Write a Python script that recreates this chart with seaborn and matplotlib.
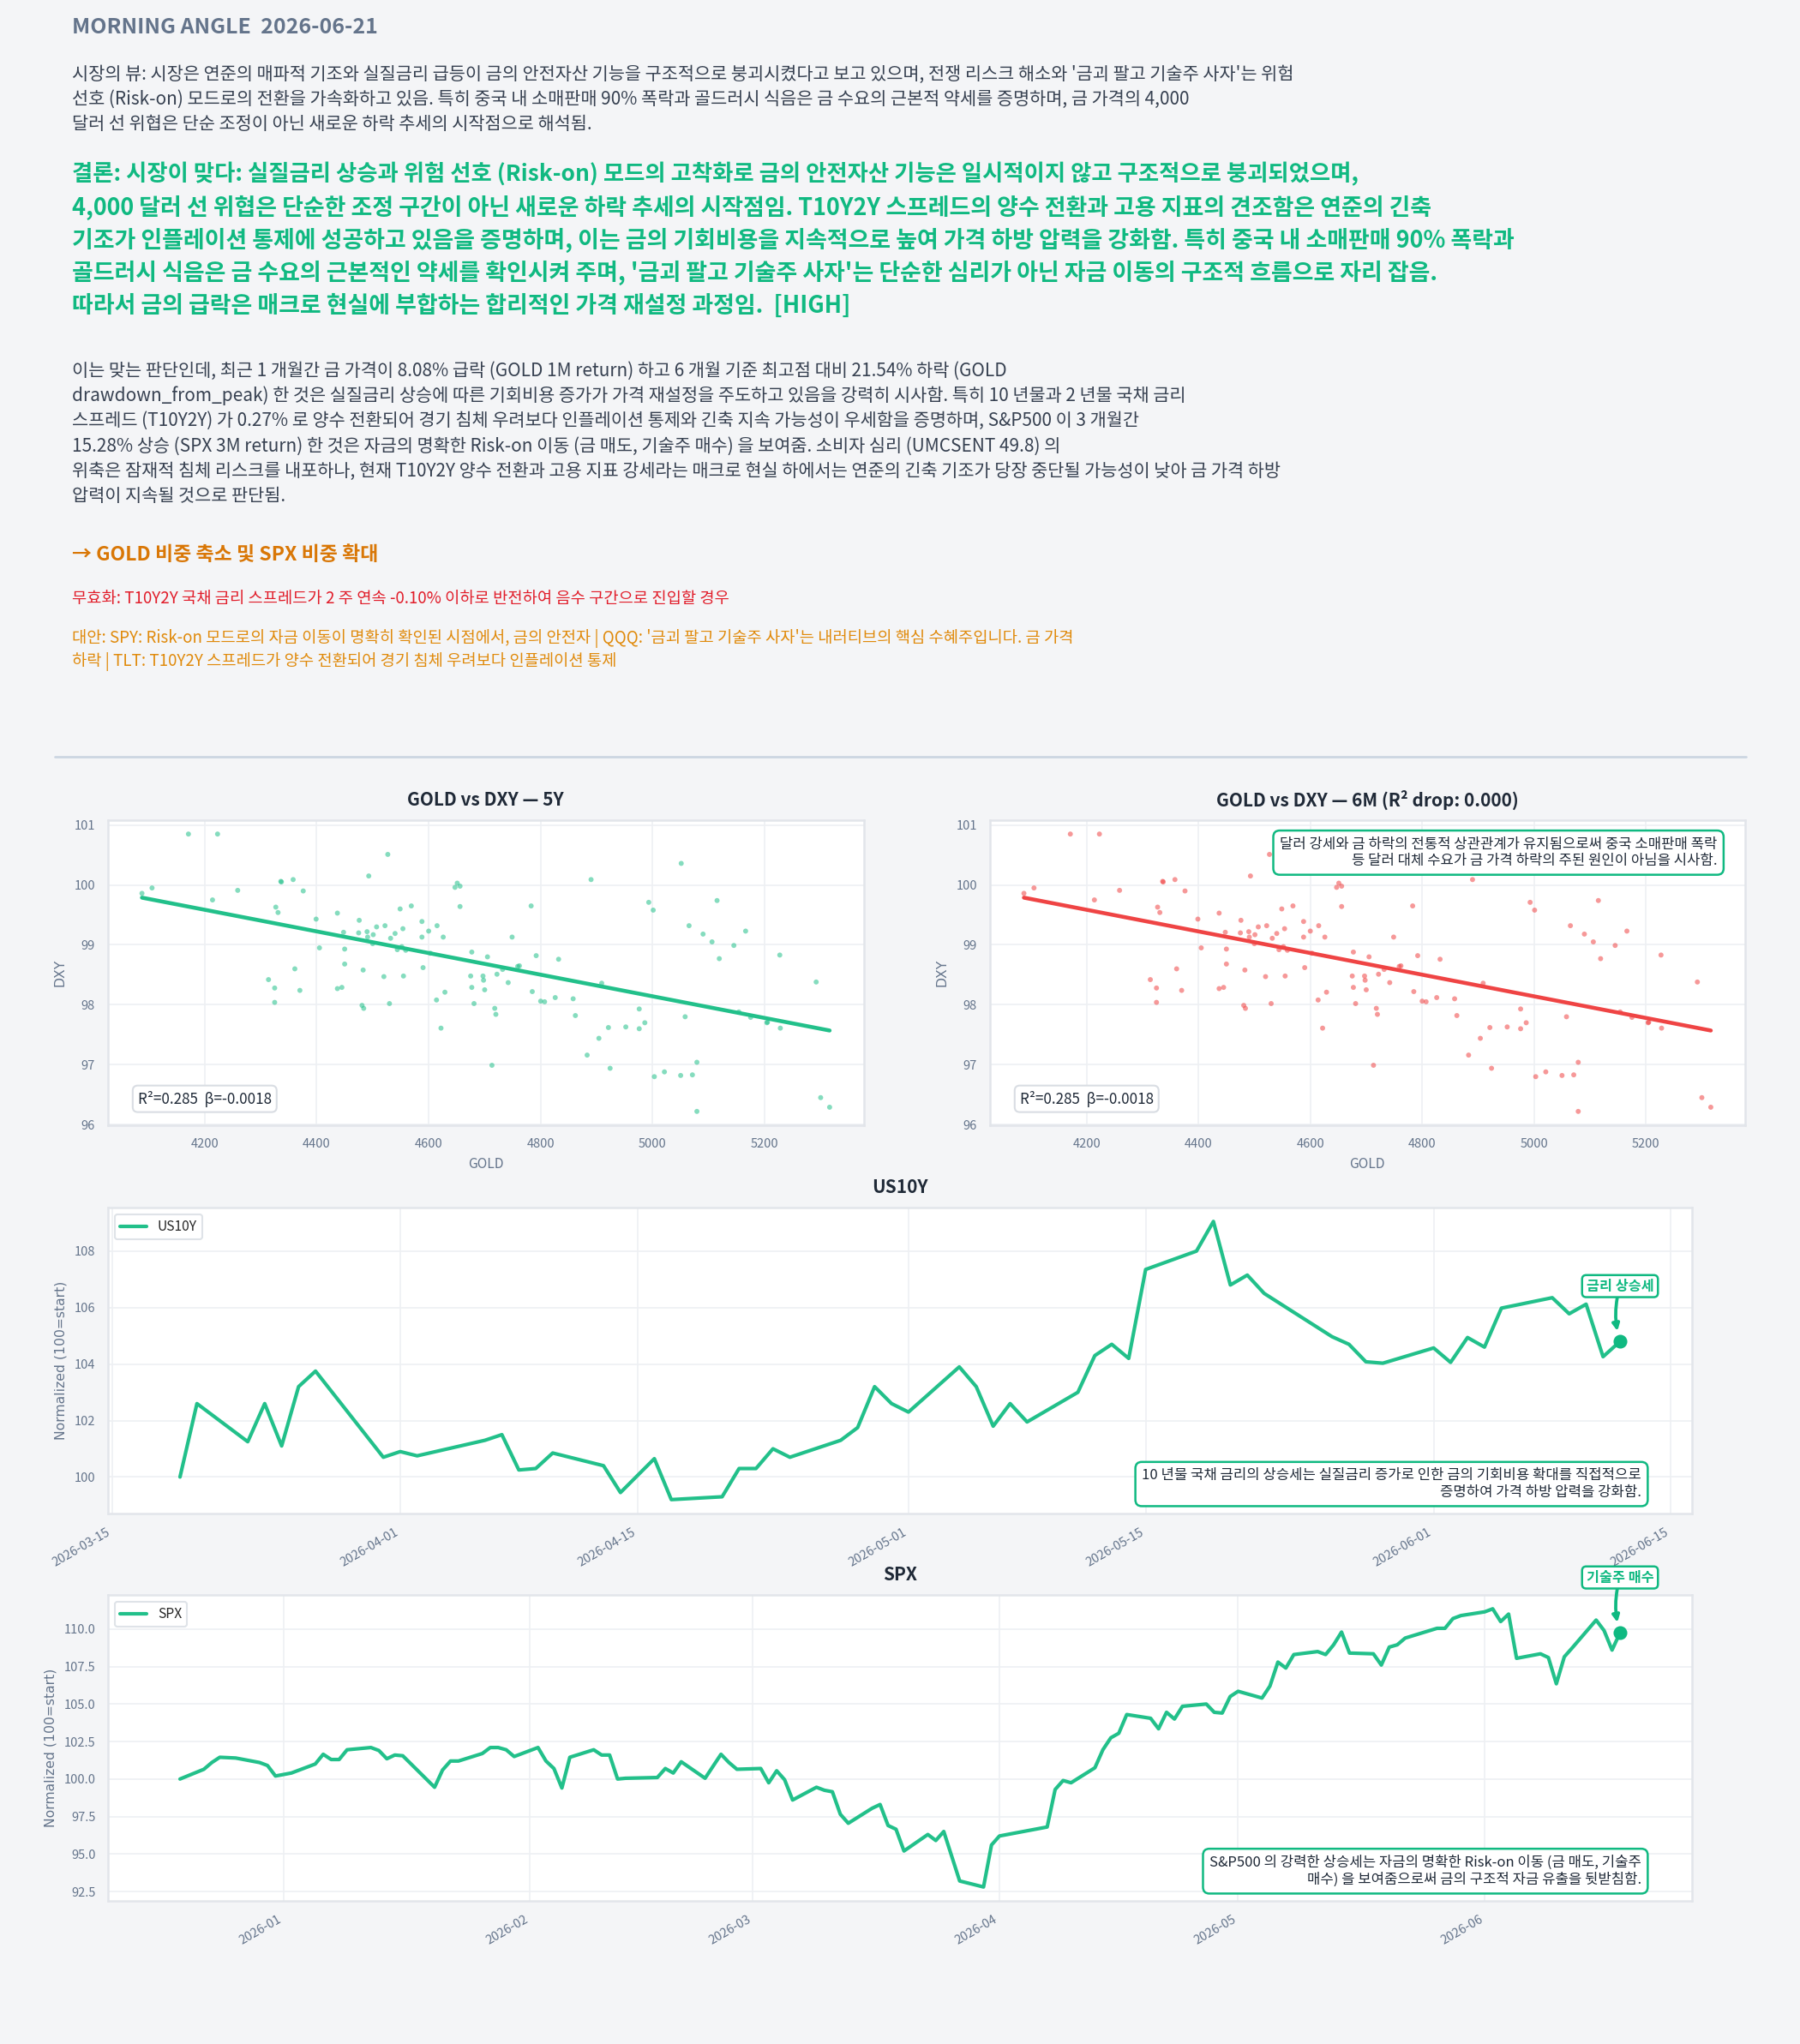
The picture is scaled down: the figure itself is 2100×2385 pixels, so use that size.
import pandas as pd
import matplotlib.pyplot as plt
from matplotlib.lines import Line2D
import seaborn as sns

# ------------------------------------------------------
# Data
# ------------------------------------------------------
gold = [4088, 4106, 4171, 4223, 4214, 4259, 4327, 4331, 4336, 4337,
        4358, 4376, 4314, 4325, 4325, 4361, 4370, 4399, 4405, 4437,
        4448, 4450, 4450, 4437, 4445, 4476, 4475, 4490, 4491, 4501,
        4500, 4507, 4522, 4532, 4540, 4493, 4527, 4483, 4520, 4481,
        4484, 4530, 4544, 4552, 4559, 4549, 4569, 4554, 4555, 4588,
        4588, 4600, 4615, 4626, 4603, 4590, 4614, 4629, 4622, 4647,
        4651, 4656, 4656, 4677, 4705, 4675, 4697, 4698, 4677, 4700,
        4681, 4718, 4720, 4713, 4722, 4732, 4742, 4749, 4759, 4762,
        4783, 4792, 4785, 4800, 4807, 4826, 4832, 4858, 4862, 4890,
        4909, 4883, 4904, 4921, 4924, 4952, 4976, 4976, 4986, 4993,
        5001, 5003, 5021, 5050, 5071, 5079, 5079, 5051, 5058, 5065,
        5090, 5106, 5115, 5119, 5145, 5166, 5154, 5175, 5204, 5205,
        5228, 5227, 5292, 5300, 5316]
dxy = [99.86, 99.95, 100.85, 100.85, 99.75, 99.91, 99.63, 99.54, 100.06, 100.05,
       100.09, 99.90, 98.42, 98.28, 98.04, 98.60, 98.24, 99.43, 98.95, 99.53,
       99.21, 98.93, 98.68, 98.27, 98.29, 99.41, 99.20, 99.22, 99.13, 99.17,
       99.02, 99.30, 99.32, 99.11, 99.19, 100.15, 100.51, 98.58, 98.47, 97.99,
       97.94, 98.02, 98.92, 98.97, 98.91, 99.60, 99.65, 99.27, 98.48, 99.39,
       99.13, 99.23, 99.32, 99.13, 98.86, 98.62, 98.08, 98.21, 97.61, 99.96,
       100.03, 99.98, 99.64, 98.88, 98.80, 98.48, 98.48, 98.41, 98.29, 98.25,
       98.02, 97.94, 97.84, 96.99, 98.51, 98.59, 98.37, 99.13, 98.64, 98.65,
       99.65, 98.82, 98.22, 98.06, 98.05, 98.12, 98.76, 98.10, 97.82, 100.09,
       98.36, 97.16, 97.44, 97.62, 96.94, 97.63, 97.93, 97.60, 97.70, 99.71,
       99.58, 96.80, 96.88, 96.82, 96.83, 97.04, 96.22, 100.36, 97.80, 99.32,
       99.18, 99.05, 99.74, 98.77, 98.99, 99.23, 97.88, 97.79, 97.70, 97.71,
       97.61, 98.83, 98.38, 96.45, 96.29]

us10y_dates = ["2026-03-19", "2026-03-20", "2026-03-23", "2026-03-24", "2026-03-25",
               "2026-03-26", "2026-03-27", "2026-03-31", "2026-04-01", "2026-04-02",
               "2026-04-06", "2026-04-07", "2026-04-08", "2026-04-09", "2026-04-10",
               "2026-04-13", "2026-04-14", "2026-04-16", "2026-04-17", "2026-04-20",
               "2026-04-21", "2026-04-22", "2026-04-23", "2026-04-24", "2026-04-27",
               "2026-04-28", "2026-04-29", "2026-04-30", "2026-05-01", "2026-05-04",
               "2026-05-05", "2026-05-06", "2026-05-07", "2026-05-08", "2026-05-11",
               "2026-05-12", "2026-05-13", "2026-05-14", "2026-05-15", "2026-05-18",
               "2026-05-19", "2026-05-20", "2026-05-21", "2026-05-22", "2026-05-26",
               "2026-05-27", "2026-05-28", "2026-05-29", "2026-06-01", "2026-06-02",
               "2026-06-03", "2026-06-04", "2026-06-05", "2026-06-08", "2026-06-09",
               "2026-06-10", "2026-06-11", "2026-06-12"]
us10y_vals = [100.0, 102.6, 101.25, 102.6, 101.1, 103.2, 103.75, 100.7, 100.9, 100.75,
              101.3, 101.5, 100.25, 100.3, 100.85, 100.4, 99.45, 100.65, 99.2, 99.3,
              100.3, 100.3, 101.0, 100.7, 101.3, 101.75, 103.2, 102.6, 102.3, 103.9,
              103.2, 101.8, 102.6, 101.95, 103.0, 104.3, 104.7, 104.2, 107.35, 108.0,
              109.05, 106.8, 107.15, 106.5, 104.97, 104.7, 104.08, 104.03, 104.57, 104.06,
              104.94, 104.6, 105.98, 106.35, 105.78, 106.12, 104.26, 104.8]

spx_dates = ["2025-12-19", "2025-12-22", "2025-12-23", "2025-12-24", "2025-12-26",
             "2025-12-29", "2025-12-30", "2025-12-31", "2026-01-02", "2026-01-05",
             "2026-01-06", "2026-01-07", "2026-01-08", "2026-01-09", "2026-01-12",
             "2026-01-13", "2026-01-14", "2026-01-15", "2026-01-16", "2026-01-20",
             "2026-01-21", "2026-01-22", "2026-01-23", "2026-01-26", "2026-01-27",
             "2026-01-28", "2026-01-29", "2026-01-30", "2026-02-02", "2026-02-03",
             "2026-02-04", "2026-02-05", "2026-02-06", "2026-02-09", "2026-02-10",
             "2026-02-11", "2026-02-12", "2026-02-13", "2026-02-17", "2026-02-18",
             "2026-02-19", "2026-02-20", "2026-02-23", "2026-02-24", "2026-02-25",
             "2026-02-26", "2026-02-27", "2026-03-02", "2026-03-03", "2026-03-04",
             "2026-03-05", "2026-03-06", "2026-03-09", "2026-03-10", "2026-03-11",
             "2026-03-12", "2026-03-13", "2026-03-16", "2026-03-17", "2026-03-18",
             "2026-03-19", "2026-03-20", "2026-03-23", "2026-03-24", "2026-03-25",
             "2026-03-26", "2026-03-27", "2026-03-30", "2026-03-31", "2026-04-01",
             "2026-04-02", "2026-04-06", "2026-04-07", "2026-04-08", "2026-04-09",
             "2026-04-10", "2026-04-13", "2026-04-14", "2026-04-15", "2026-04-16",
             "2026-04-17", "2026-04-20", "2026-04-21", "2026-04-22", "2026-04-23",
             "2026-04-24", "2026-04-27", "2026-04-28", "2026-04-29", "2026-04-30",
             "2026-05-01", "2026-05-04", "2026-05-05", "2026-05-06", "2026-05-07",
             "2026-05-08", "2026-05-11", "2026-05-12", "2026-05-13", "2026-05-14",
             "2026-05-15", "2026-05-18", "2026-05-19", "2026-05-20", "2026-05-21",
             "2026-05-22", "2026-05-26", "2026-05-27", "2026-05-28", "2026-05-29",
             "2026-06-01", "2026-06-02", "2026-06-03", "2026-06-04", "2026-06-05",
             "2026-06-08", "2026-06-09", "2026-06-10", "2026-06-11", "2026-06-12",
             "2026-06-15", "2026-06-16", "2026-06-17", "2026-06-18"]
spx_vals = [100.0, 100.65, 101.1, 101.45, 101.4, 101.1, 100.9, 100.2, 100.4, 101.0,
            101.65, 101.3, 101.3, 101.95, 102.1, 101.9, 101.35, 101.6, 101.55, 99.45,
            100.6, 101.2, 101.2, 101.7, 102.1, 102.1, 101.95, 101.5, 102.1, 101.2,
            100.7, 99.4, 101.45, 101.95, 101.6, 101.6, 100.0, 100.05, 100.1, 100.7,
            100.4, 101.15, 100.05, 100.85, 101.65, 101.1, 100.65, 100.7, 99.75, 100.55,
            99.95, 98.6, 99.45, 99.25, 99.15, 97.65, 97.05, 98.05, 98.3, 96.9,
            96.65, 95.2, 96.3, 95.9, 96.5, 94.85, 93.2, 92.8, 95.6, 96.2,
            96.3, 96.7, 96.8, 99.3, 99.9, 99.75, 100.75, 101.95, 102.75, 103.05,
            104.3, 104.05, 103.35, 104.45, 104.0, 104.85, 105.0, 104.45, 104.4, 105.5,
            105.85, 105.4, 106.2, 107.8, 107.4, 108.3, 108.5, 108.3, 108.95, 109.8,
            108.4, 108.35, 107.6, 108.8, 108.95, 109.4, 110.05, 110.05, 110.7, 110.9,
            111.15, 111.35, 110.5, 111.0, 108.05, 108.35, 108.1, 106.35, 108.15, 108.75,
            110.6, 109.9, 108.6, 109.75]

# ------------------------------------------------------
# Text
# ------------------------------------------------------
header = "MORNING ANGLE  2026-06-21"
view_lines = [
    "시장의 뷰: 시장은 연준의 매파적 기조와 실질금리 급등이 금의 안전자산 기능을 구조적으로 붕괴시켰다고 보고 있으며, 전쟁 리스크 해소와 '금괴 팔고 기술주 사자'는 위험",
    "선호 (Risk-on) 모드로의 전환을 가속화하고 있음. 특히 중국 내 소매판매 90% 폭락과 골드러시 식음은 금 수요의 근본적 약세를 증명하며, 금 가격의 4,000",
    "달러 선 위협은 단순 조정이 아닌 새로운 하락 추세의 시작점으로 해석됨.",
]
verdict_lines = [
    "결론: 시장이 맞다: 실질금리 상승과 위험 선호 (Risk-on) 모드의 고착화로 금의 안전자산 기능은 일시적이지 않고 구조적으로 붕괴되었으며,",
    "4,000 달러 선 위협은 단순한 조정 구간이 아닌 새로운 하락 추세의 시작점임. T10Y2Y 스프레드의 양수 전환과 고용 지표의 견조함은 연준의 긴축",
    "기조가 인플레이션 통제에 성공하고 있음을 증명하며, 이는 금의 기회비용을 지속적으로 높여 가격 하방 압력을 강화함. 특히 중국 내 소매판매 90% 폭락과",
    "골드러시 식음은 금 수요의 근본적인 약세를 확인시켜 주며, '금괴 팔고 기술주 사자'는 단순한 심리가 아닌 자금 이동의 구조적 흐름으로 자리 잡음.",
    "따라서 금의 급락은 매크로 현실에 부합하는 합리적인 가격 재설정 과정임.  [HIGH]",
]
body_lines = [
    "이는 맞는 판단인데, 최근 1 개월간 금 가격이 8.08% 급락 (GOLD 1M return) 하고 6 개월 기준 최고점 대비 21.54% 하락 (GOLD",
    "drawdown_from_peak) 한 것은 실질금리 상승에 따른 기회비용 증가가 가격 재설정을 주도하고 있음을 강력히 시사함. 특히 10 년물과 2 년물 국채 금리",
    "스프레드 (T10Y2Y) 가 0.27% 로 양수 전환되어 경기 침체 우려보다 인플레이션 통제와 긴축 지속 가능성이 우세함을 증명하며, S&P500 이 3 개월간",
    "15.28% 상승 (SPX 3M return) 한 것은 자금의 명확한 Risk-on 이동 (금 매도, 기술주 매수) 을 보여줌. 소비자 심리 (UMCSENT 49.8) 의",
    "위축은 잠재적 침체 리스크를 내포하나, 현재 T10Y2Y 양수 전환과 고용 지표 강세라는 매크로 현실 하에서는 연준의 긴축 기조가 당장 중단될 가능성이 낮아 금 가격 하방",
    "압력이 지속될 것으로 판단됨.",
]
action = "→ GOLD 비중 축소 및 SPX 비중 확대"
invalid = "무효화: T10Y2Y 국채 금리 스프레드가 2 주 연속 -0.10% 이하로 반전하여 음수 구간으로 진입할 경우"
alt_lines = [
    "대안: SPY: Risk-on 모드로의 자금 이동이 명확히 확인된 시점에서, 금의 안전자 | QQQ: '금괴 팔고 기술주 사자'는 내러티브의 핵심 수혜주입니다. 금 가격",
    "하락 | TLT: T10Y2Y 스프레드가 양수 전환되어 경기 침체 우려보다 인플레이션 통제",
]
note_6m = "달러 강세와 금 하락의 전통적 상관관계가 유지됨으로써 중국 소매판매 폭락\n등 달러 대체 수요가 금 가격 하락의 주된 원인이 아님을 시사함."
note_us10y = "10 년물 국채 금리의 상승세는 실질금리 증가로 인한 금의 기회비용 확대를 직접적으로\n증명하여 가격 하방 압력을 강화함."
note_spx = "S&P500 의 강력한 상승세는 자금의 명확한 Risk-on 이동 (금 매도, 기술주\n매수) 을 보여줌으로써 금의 구조적 자금 유출을 뒷받침함."
stat_label = "R²=0.285  β=-0.0018"

# ------------------------------------------------------
# Style
# ------------------------------------------------------
BG = "#f4f5f7"
GREEN = "#10b981"
LINE_GREEN = "#22c08a"
RED = "#ef4444"
ORANGE = "#d97706"
TEXT = "#374151"
MUTED = "#64748b"
SPINE = "#e2e5ea"

sns.set_theme(style="whitegrid")
plt.rcParams["font.family"] = ["Noto Sans CJK KR", "DejaVu Sans"]
plt.rcParams.update({
    "figure.facecolor": BG,
    "axes.facecolor": "white",
    "axes.edgecolor": SPINE,
    "axes.linewidth": 1.2,
    "grid.color": "#eef0f3",
    "grid.linewidth": 0.8,
    "xtick.color": MUTED,
    "ytick.color": MUTED,
    "xtick.labelsize": 7,
    "ytick.labelsize": 7,
    "axes.labelcolor": MUTED,
    "axes.labelsize": 7.5,
})

W, H = 2100, 2385
fig = plt.figure(figsize=(W / 150, H / 150), dpi=150)


def fy(px):
    return 1 - px / H


def add_ax(x0, y0, x1, y1):
    return fig.add_axes([x0 / W, 1 - y1 / H, (x1 - x0) / W, (y1 - y0) / H])


# ------------------------------------------------------
# Text block
# ------------------------------------------------------
X0 = 84 / W
fig.text(X0, fy(32), header, fontsize=12, fontweight="bold", color=MUTED, va="center")
for line, y in zip(view_lines, [87, 116, 145]):
    fig.text(X0, fy(y), line, fontsize=10, color=TEXT, va="center")
for i, (line, y) in enumerate(zip(verdict_lines, [203, 242, 280, 318, 357])):
    fig.text(X0, fy(y), line, fontsize=12.65 if i == 0 else 12.95,
             fontweight="bold", color=GREEN, va="center")
for line, y in zip(body_lines, [433, 462, 491, 521, 550, 579]):
    fig.text(X0, fy(y), line, fontsize=10, color=TEXT, va="center")
fig.text(X0, fy(648), action, fontsize=11, fontweight="bold", color=ORANGE, va="center")
fig.text(X0, fy(698), invalid, fontsize=9, color="#e11d2a", va="center")
for line, y in zip(alt_lines, [745, 772]):
    fig.text(X0, fy(y), line, fontsize=9, color="#e08a0b", va="center")
fig.add_artist(Line2D([64 / W, 2037 / W], [fy(883), fy(883)], color="#cbd5e1", lw=1.3))

# ------------------------------------------------------
# Scatter panels
# ------------------------------------------------------
df = pd.DataFrame({"GOLD": gold, "DXY": dxy})
box_grey = dict(boxstyle="round,pad=0.35", fc="white", ec="#d9dde3", lw=1)
box_green = dict(boxstyle="round,pad=0.45", fc="white", ec=GREEN, lw=1.2)

ax1 = add_ax(125.5, 957, 1008, 1313)
ax2 = add_ax(1154.5, 957, 2036, 1313)
for ax, col, title in [(ax1, LINE_GREEN, "GOLD vs DXY — 5Y"),
                       (ax2, RED, "GOLD vs DXY — 6M (R² drop: 0.000)")]:
    sns.regplot(data=df, x="GOLD", y="DXY", ax=ax, ci=None, color=col,
                scatter_kws={"s": 8, "alpha": 0.55, "edgecolor": "none"},
                line_kws={"lw": 2.2})
    ax.set_title(title, fontsize=10, fontweight="bold", color="#1f2937", pad=8)
    ax.set_ylabel("DXY", fontfamily="DejaVu Sans")
    ax.tick_params(length=3.5, width=1, color=MUTED)
    ax.text(0.04, 0.06, stat_label, transform=ax.transAxes, fontsize=8.2,
            color="#1f2937", ha="left", va="bottom", bbox=box_grey)
ax2.text(0.963, 0.945, note_6m, transform=ax2.transAxes, fontsize=8, color="#1f2937",
         ha="right", va="top", multialignment="right", bbox=box_green)

# ------------------------------------------------------
# Time series panels
# ------------------------------------------------------
us = pd.DataFrame({"date": pd.to_datetime(us10y_dates), "val": us10y_vals})
sp = pd.DataFrame({"date": pd.to_datetime(spx_dates), "val": spx_vals})

ax3 = add_ax(126, 1409, 1974, 1766)
ax4 = add_ax(126, 1861, 1974, 2218)
panels = [(ax3, us, "US10Y", "금리 상승세", note_us10y),
          (ax4, sp, "SPX", "기술주 매수", note_spx)]
for ax, d, name, tag, note in panels:
    sns.lineplot(data=d, x="date", y="val", ax=ax, color=LINE_GREEN, lw=2, label=name)
    ax.set_title(name, fontsize=10, fontweight="bold", color="#1f2937", pad=8)
    ax.set_xlabel("")
    ax.set_ylabel("Normalized (100=start)", fontfamily="DejaVu Sans")
    ax.tick_params(length=3.5, width=1, color=MUTED)
    plt.setp(ax.get_xticklabels(), rotation=30, ha="right")
    ax.legend(loc="upper left", fontsize=7.5, frameon=True, edgecolor="#dfe3e8",
              facecolor="white", framealpha=1)
    last_x, last_y = d["date"].iloc[-1], d["val"].iloc[-1]
    ax.scatter([last_x], [last_y], s=45, color=GREEN, zorder=5)
    ax.annotate(tag, xy=(last_x, last_y), xytext=(0, 31), textcoords="offset points",
                ha="center", va="center", fontsize=7.8, fontweight="bold", color=GREEN,
                bbox=dict(boxstyle="round,pad=0.3", fc="white", ec=GREEN, lw=1.2),
                arrowprops=dict(arrowstyle="-|>", color=GREEN, lw=1.8,
                                connectionstyle="arc3,rad=0.15", shrinkA=0, shrinkB=6),
                annotation_clip=False, zorder=6)
    ax.text(0.968, 0.045, note, transform=ax.transAxes, fontsize=8, color="#1f2937",
            ha="right", va="bottom", multialignment="right", bbox=box_green)

fig.savefig("out.png", dpi=150, facecolor=BG)
